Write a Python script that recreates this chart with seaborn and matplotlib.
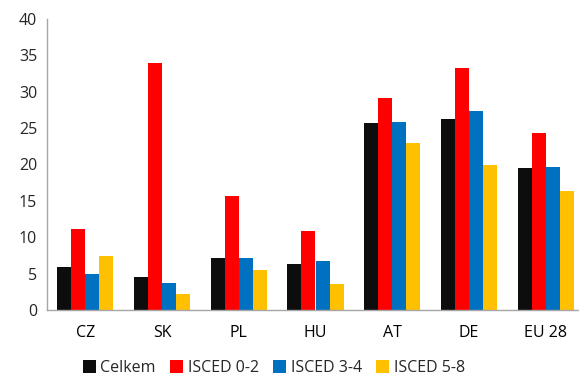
import numpy as np
import pandas as pd
import matplotlib.pyplot as plt
import seaborn as sns

# data
countries = ['CZ', 'SK', 'PL', 'HU', 'AT', 'DE', 'EU 28']
series = ['Celkem', 'ISCED 0-2', 'ISCED 3-4', 'ISCED 5-8']
celkem = [5.9, 4.6, 7.1, 6.3, 25.7, 26.2, 19.5]
isced_02 = [11.2, 34.0, 15.7, 10.8, 29.2, 33.2, 24.3]
isced_34 = [5.0, 3.7, 7.1, 6.8, 25.8, 27.4, 19.6]
isced_58 = [7.4, 2.2, 5.5, 3.6, 22.9, 19.9, 16.4]
colors = ['#0D0D0D', '#FF0000', '#0070C0', '#FFC000']

df = pd.DataFrame({
    'zeme': countries * 4,
    'skupina': np.repeat(series, len(countries)),
    'hodnota': celkem + isced_02 + isced_34 + isced_58,
})

sns.set_style('white')
plt.rcParams['font.family'] = ['Open Sans', 'DejaVu Sans']

fig = plt.figure(figsize=(5.79, 3.78), dpi=100)
ax = fig.add_axes([47 / 579, 1 - 310 / 378, (584 - 47) / 579, (310 - 19) / 378])

sns.barplot(data=df, x='zeme', y='hodnota', hue='skupina', order=countries,
            hue_order=series, palette=colors, saturation=1, width=0.73, gap=0,
            edgecolor='none', linewidth=0, ax=ax)

ax.set_ylim(0, 40)
ax.set_xlim(-0.5, 6.5)
ax.set_yticks(range(0, 41, 5))
ax.set_xlabel('')
ax.set_ylabel('')

# category separators as tick marks
ax.set_xticks(np.arange(-0.5, 7, 1), minor=True)
ax.tick_params(axis='x', which='minor', length=5, color='#A6A6A6', width=1, direction='out')
ax.tick_params(axis='x', which='major', length=0, pad=11, labelsize=11.5, colors='#000000')
ax.tick_params(axis='y', length=4, color='#A6A6A6', width=1, direction='out', pad=3,
               labelsize=11.5)

for s in ['top', 'right']:
    ax.spines[s].set_visible(False)
for s in ['left', 'bottom']:
    ax.spines[s].set_color('#A6A6A6')
    ax.spines[s].set_linewidth(1)

ax.legend_.remove()
handles, labels = ax.get_legend_handles_labels()
fig.legend(handles, labels, loc='center', bbox_to_anchor=(274 / 579, 1 - 368 / 378),
           ncol=4, frameon=False, fontsize=11.5, handlelength=0.8, handleheight=0.8,
           handletextpad=0.3, columnspacing=0.9, borderaxespad=0)

fig.savefig('out.png', dpi=100)
